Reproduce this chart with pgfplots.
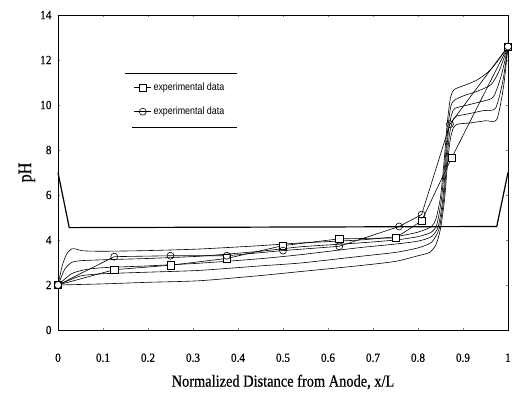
\documentclass[border=0pt]{standalone}
\usepackage{fontspec}
\setmainfont{Liberation Serif}
\newfontfamily\tickfont[FakeStretch=0.9, FakeBold=0.6]{Liberation Serif}
\newfontfamily\labfont[FakeStretch=0.85, FakeBold=0.6]{Liberation Serif}
\newfontfamily\legfont[FakeStretch=0.85]{Liberation Sans}
\usepackage{pgfplots}
\pgfplotsset{compat=1.18}
\begin{document}
\begin{tikzpicture}
\begin{axis}[
  scale only axis, width=450bp, height=315bp,
  xmin=0, xmax=1, ymin=0, ymax=14,
  xtick={0,0.1,0.2,0.3,0.4,0.5,0.6,0.7,0.8,0.9,1},
  xticklabels={0,0.1,0.2,0.3,0.4,0.5,0.6,0.7,0.8,0.9,1},
  ytick={0,2,4,6,8,10,12,14},
  yticklabels={0,2,4,6,8,10,12,14},
  tick align=inside, major tick length=2bp,
  tick style={line width=0.5bp},
  xticklabel style={yshift=-20bp, font=\tickfont\fontsize{12.5}{12.5}\selectfont},
  yticklabel style={xshift=-3bp, font=\tickfont\fontsize{12.5}{12.5}\selectfont},
  xlabel={Normalized Distance from Anode, x/L},
  ylabel={pH},
  xlabel style={font=\labfont\fontsize{17}{17}\selectfont, at={(axis description cs:0.5,-0.165)}, anchor=center},
  ylabel style={font=\labfont\fontsize{19}{19}\selectfont, at={(axis description cs:-0.069,0.5)}, anchor=center},
  axis line style={line width=0.8bp},
  clip=false,
  legend style={at={(axis cs:0.164,11.16)}, anchor=north west, draw=none, fill=none,
    font=\legfont\fontsize{10.5}{10.5}\selectfont, row sep=11bp, inner sep=2bp},
  legend cell align=left,
]
% experimental data (squares)
\addplot[black, line width=0.6bp, mark=square*, mark size=3.7bp, mark options={fill=white, solid, line width=0.6bp}]
coordinates {(0,2) (0.125,2.68) (0.25,2.88) (0.375,3.18) (0.5,3.75) (0.625,4.05) (0.75,4.09) (0.808,4.85) (0.875,7.66) (1,12.6)};
\addlegendentry{experimental data}
% experimental data (circles)
\addplot[black, line width=0.6bp, mark=o, mark size=3.5bp, mark options={fill=white, solid, line width=0.6bp}]
coordinates {(0,2) (0.125,3.26) (0.25,3.3) (0.375,3.3) (0.5,3.53) (0.625,3.72) (0.758,4.6) (0.808,5.13) (0.871,9.15) (1,12.6)};
\addlegendentry{experimental data}
% flat line
\addplot[black, line width=1.2bp, forget plot] coordinates {(0,7) (0.025,4.55) (0.975,4.6) (1,7)};
% model curves
\addplot[black, line width=0.6bp, smooth, tension=0.4, forget plot] coordinates {
(0,2) (0.01,2.9) (0.02,3.4) (0.03,3.6) (0.04,3.6) (0.055,3.52) (0.1,3.5) (0.2,3.53) (0.315,3.6) (0.45,3.75) (0.54,3.87) (0.67,4.0) (0.75,4.15) (0.8,4.35) (0.83,4.6) (0.84,4.95) (0.85,5.9) (0.858,7.5) (0.865,9.2) (0.872,10.3) (0.88,10.68) (0.9,10.85) (0.93,11.1) (0.955,11.45) (0.975,11.9) (1,12.6)};
\addplot[black, line width=0.6bp, smooth, tension=0.4, forget plot] coordinates {
(0,2) (0.015,2.7) (0.03,3.0) (0.05,3.08) (0.1,3.12) (0.2,3.18) (0.315,3.28) (0.45,3.5) (0.54,3.7) (0.67,3.87) (0.75,4.0) (0.8,4.15) (0.83,4.35) (0.842,4.7) (0.852,5.8) (0.86,7.5) (0.867,9.1) (0.873,9.95) (0.88,10.2) (0.9,10.4) (0.93,10.6) (0.962,10.9) (0.98,11.5) (1,12.6)};
\addplot[black, line width=0.6bp, smooth, tension=0.4, forget plot] coordinates {
(0,2) (0.03,2.5) (0.06,2.68) (0.1,2.77) (0.2,2.85) (0.315,2.97) (0.45,3.17) (0.54,3.35) (0.67,3.66) (0.75,3.82) (0.8,3.95) (0.83,4.15) (0.845,4.6) (0.855,5.8) (0.862,7.5) (0.868,8.9) (0.875,9.6) (0.882,9.85) (0.91,10.0) (0.94,10.15) (0.967,10.35) (0.985,11.3) (1,12.6)};
\addplot[black, line width=0.6bp, smooth, tension=0.4, forget plot] coordinates {
(0,2) (0.05,2.4) (0.1,2.5) (0.2,2.57) (0.315,2.65) (0.45,2.85) (0.54,2.98) (0.67,3.27) (0.75,3.45) (0.8,3.65) (0.83,3.9) (0.847,4.5) (0.857,5.8) (0.864,7.5) (0.87,8.7) (0.877,9.3) (0.885,9.5) (0.91,9.6) (0.945,9.75) (0.972,9.85) (0.988,11.0) (1,12.6)};
\addplot[black, line width=0.6bp, smooth, tension=0.4, forget plot] coordinates {
(0,2) (0.1,2.05) (0.2,2.12) (0.315,2.19) (0.45,2.42) (0.54,2.6) (0.67,2.86) (0.75,3.05) (0.8,3.3) (0.826,3.45) (0.84,3.8) (0.85,4.5) (0.859,5.8) (0.866,7.5) (0.872,8.5) (0.879,9.0) (0.888,9.15) (0.915,9.2) (0.95,9.3) (0.975,9.35) (0.99,10.8) (1,12.6)};
% legend rules
\draw[line width=0.6bp] (axis cs:0.149,11.43) -- (axis cs:0.398,11.43);
\draw[line width=0.6bp] (axis cs:0.164,9.02) -- (axis cs:0.398,9.02);
\end{axis}
\path (-58bp,-61bp) rectangle (460bp,330bp);
\end{tikzpicture}
\end{document}
